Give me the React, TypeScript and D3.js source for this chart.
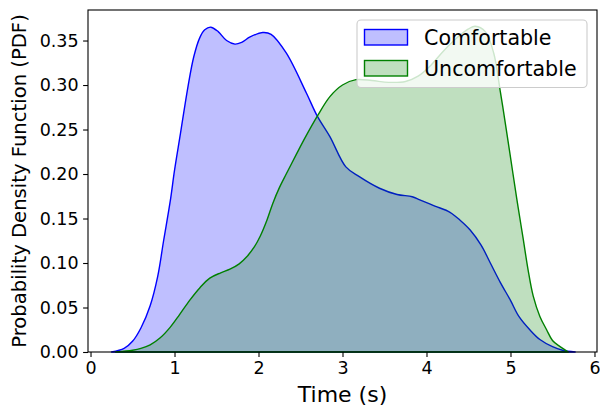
import React, { useEffect, useRef } from 'react';
import * as d3 from 'd3';

// KDE curves (time in s, density)
const comfortableX = [0.25, 0.4, 0.5, 0.6, 0.71, 0.8, 0.87, 0.95, 1.0, 1.07, 1.16, 1.23, 1.3, 1.36, 1.43, 1.52, 1.62, 1.72, 1.8, 1.9, 2.05, 2.15, 2.33, 2.57, 2.7, 2.85, 3.04, 3.2, 3.44, 3.65, 3.83, 3.92, 4.1, 4.28, 4.4, 4.52, 4.65, 4.76, 4.88, 5.0, 5.1, 5.23, 5.35, 5.5, 5.62, 5.77];
const comfortableY = [0.0, 0.004, 0.012, 0.027, 0.052, 0.085, 0.125, 0.17, 0.204, 0.245, 0.298, 0.332, 0.353, 0.362, 0.365, 0.36, 0.35, 0.346, 0.348, 0.354, 0.359, 0.357, 0.336, 0.291, 0.265, 0.242, 0.208, 0.197, 0.184, 0.177, 0.1745, 0.171, 0.164, 0.157, 0.148, 0.137, 0.12, 0.1, 0.078, 0.058, 0.04, 0.025, 0.014, 0.006, 0.002, 0.0];

const uncomfortableX = [0.3, 0.5, 0.6, 0.71, 0.83, 0.95, 1.06, 1.18, 1.3, 1.42, 1.55, 1.66, 1.77, 1.86, 1.95, 2.02, 2.1, 2.17, 2.25, 2.33, 2.45, 2.55, 2.7, 2.85, 3.0, 3.16, 3.35, 3.55, 3.75, 3.9, 4.05, 4.2, 4.35, 4.5, 4.58, 4.7, 4.8, 4.88, 4.95, 5.03, 5.09, 5.15, 5.21, 5.27, 5.35, 5.43, 5.5, 5.59, 5.69];
const uncomfortableY = [0.0, 0.002, 0.004, 0.008, 0.016, 0.028, 0.042, 0.058, 0.072, 0.083, 0.089, 0.093, 0.099, 0.107, 0.118, 0.13, 0.148, 0.167, 0.185, 0.2, 0.222, 0.24, 0.265, 0.287, 0.3, 0.306, 0.305, 0.303, 0.304, 0.31, 0.322, 0.338, 0.352, 0.363, 0.366, 0.36, 0.336, 0.292, 0.25, 0.2, 0.163, 0.128, 0.092, 0.063, 0.04, 0.025, 0.013, 0.006, 0.0];

const xTicks = [0, 1, 2, 3, 4, 5, 6];
const yTicks = [0, 0.05, 0.1, 0.15, 0.2, 0.25, 0.3, 0.35];

const seriesNames = ['Comfortable', 'Uncomfortable'];
const seriesColors = ['#0000ff', '#008000'];

const FONT = 'DejaVu Sans, sans-serif';

const App: React.FC = () => {
  const svgRef = useRef<SVGSVGElement>(null);

  useEffect(() => {
    if (!svgRef.current) return;
    const svg = d3.select(svgRef.current);
    svg.selectAll('*').remove();

    const left = 88, right = 597, top = 10, bottom = 352;

    const x = d3.scaleLinear().domain([-0.03, 6.03]).range([left, right]);
    const y = d3.scaleLinear().domain([0, 0.3843]).range([bottom, top]);

    const series = [
      comfortableX.map((v, i) => [v, comfortableY[i]] as [number, number]),
      uncomfortableX.map((v, i) => [v, uncomfortableY[i]] as [number, number]),
    ];

    const area = d3.area<[number, number]>()
      .x(d => x(d[0]))
      .y0(y(0))
      .y1(d => Math.min(y(0), y(d[1])))
      .curve(d3.curveCatmullRom.alpha(0.5));

    series.forEach((pts, i) => {
      svg.append('path')
        .attr('d', area(pts) as string)
        .attr('fill', seriesColors[i])
        .attr('fill-opacity', 0.25)
        .attr('stroke', seriesColors[i])
        .attr('stroke-width', 1.4)
        .attr('stroke-linejoin', 'round');
    });

    // frame
    svg.append('rect')
      .attr('x', left).attr('y', top)
      .attr('width', right - left).attr('height', bottom - top)
      .attr('fill', 'none').attr('stroke', '#000').attr('stroke-width', 1.1);

    // x axis
    const xAxis = d3.axisBottom(x).tickValues(xTicks).tickSize(4.9).tickPadding(4.5).tickFormat(d3.format('d'));
    const gx = svg.append('g').attr('transform', `translate(0,${bottom})`).call(xAxis);
    gx.select('.domain').remove();
    gx.selectAll('line').attr('stroke', '#000').attr('stroke-width', 1.1);
    gx.selectAll('text').attr('font-family', FONT).attr('font-size', 17.5).attr('fill', '#000');

    // y axis
    const yAxis = d3.axisLeft(y).tickValues(yTicks).tickSize(4.9).tickPadding(4.5).tickFormat(d3.format('.2f'));
    const gy = svg.append('g').attr('transform', `translate(${left},0)`).call(yAxis);
    gy.select('.domain').remove();
    gy.selectAll('line').attr('stroke', '#000').attr('stroke-width', 1.1);
    gy.selectAll('text').attr('font-family', FONT).attr('font-size', 17.5).attr('fill', '#000');

    svg.append('text')
      .attr('x', (left + right) / 2).attr('y', 402)
      .attr('text-anchor', 'middle')
      .attr('font-family', FONT).attr('font-size', 22)
      .text('Time (s)');

    svg.append('text')
      .attr('transform', `translate(26,${(top + bottom) / 2}) rotate(-90)`)
      .attr('text-anchor', 'middle')
      .attr('font-family', FONT).attr('font-size', 19.6)
      .text('Probability Density Function (PDF)');

    // legend
    const lg = svg.append('g');
    lg.append('rect')
      .attr('x', 357).attr('y', 20).attr('width', 230).attr('height', 67.5)
      .attr('rx', 4).attr('fill', '#fff').attr('fill-opacity', 0.8)
      .attr('stroke', '#cccccc').attr('stroke-width', 1.1);
    seriesNames.forEach((name, i) => {
      const yy = 29.5 + i * 31;
      lg.append('rect')
        .attr('x', 364.5).attr('y', yy).attr('width', 43).attr('height', 15.5)
        .attr('fill', seriesColors[i]).attr('fill-opacity', 0.25)
        .attr('stroke', seriesColors[i]).attr('stroke-width', 1.4);
      lg.append('text')
        .attr('x', 424).attr('y', yy + 15.5)
        .attr('font-family', FONT).attr('font-size', 20.6)
        .text(name);
    });
  }, []);

  return (
    <svg ref={svgRef} width={600} height={411} style={{ position: 'absolute', left: 0, top: 0, background: '#fff' }} />
  );
};

export default App;
